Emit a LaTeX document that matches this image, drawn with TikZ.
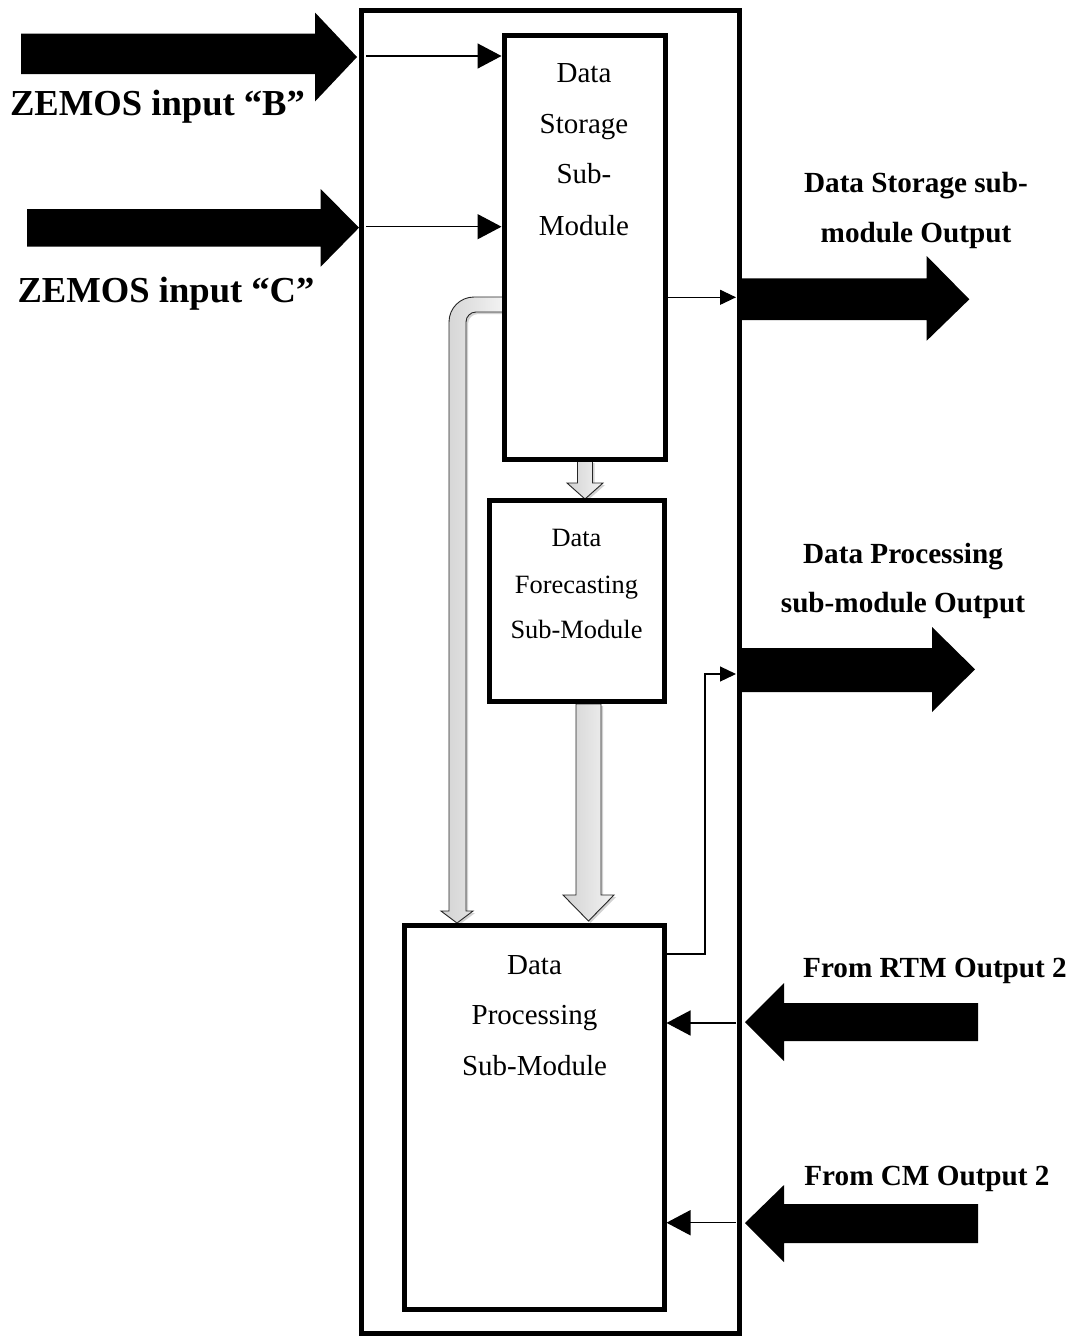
\documentclass[tikz,border=0pt]{standalone}
\usepackage{fontspec}
\setmainfont{Liberation Serif}
\usetikzlibrary{arrows.meta,shadows}
\begin{document}
\begin{tikzpicture}[x=1pt,y=-1pt,
  blk/.style={draw=black,line width=5pt,fill=white,inner sep=0pt},
  wire/.style={line width=1.5pt,-{Triangle[length=24pt,width=25pt]}},
  wiresm/.style={line width=1.2pt,-{Triangle[length=16pt,width=15pt]}},
  fat/.style={fill=black},
  pipe/.style={draw=black!85,line width=0.9pt,left color=gray!35,right color=gray!10,
    drop shadow={opacity=0.35,shadow xshift=2pt,shadow yshift=-2pt}},
  txt/.style={anchor=base,inner sep=0pt,font=\fontsize{29}{29}\selectfont},
  ftxt/.style={anchor=base,inner sep=0pt,font=\fontsize{26.4}{26.4}\selectfont},
  lbl/.style={anchor=base,inner sep=0pt,font=\fontsize{29.2}{29.2}\selectfont\bfseries},
  big/.style={anchor=base,inner sep=0pt,font=\fontsize{36.6}{36.6}\selectfont\bfseries}]
\useasboundingbox (0,0) rectangle (1076,1336);

% outer module
\node[blk,minimum width=377.5pt,minimum height=1323pt] (ob) at (550.25,671.5) {};

% gray pipes (drawn before the boxes)
\path[pipe] (503,297) -- (474,297) arc[start angle=270,end angle=180,radius=25]
  -- (449,911) -- (441,911) -- (457,923) -- (473,911) -- (466,911) -- (466,322)
  arc[start angle=180,end angle=270,radius=10] -- (503,312) -- cycle;
\path[pipe] (577.5,461) -- (592.5,461) -- (592.5,483) -- (603,483) -- (585,499)
  -- (567,483) -- (577.5,483) -- cycle;
\path[pipe] (576,704) -- (601,704) -- (601,895) -- (614,895) -- (588.5,921)
  -- (563,895) -- (576,895) -- cycle;

% inner boxes
\node[blk,minimum width=161.5pt,minimum height=423.5pt] (ds) at (584.75,247.25) {};
\node[blk,minimum width=175pt,minimum height=201pt] (df) at (576.5,601) {};
\node[blk,minimum width=259.5pt,minimum height=384pt] (dp) at (534.25,1117) {};

% box texts
\node[txt] (ds1) at (584,82.7) {Data};
\node[txt] (ds2) at (584,133) {Storage};
\node[txt] (ds3) at (584,183) {Sub-};
\node[txt] (ds4) at (584,235) {Module};
\node[ftxt] (df1) at (576.5,546) {Data};
\node[ftxt] (df2) at (576.5,593) {Forecasting};
\node[ftxt] (df3) at (576.5,638) {Sub-Module};
\node[txt] (dp1) at (534.5,974) {Data};
\node[txt] (dp2) at (534.5,1024) {Processing};
\node[txt] (dp3) at (534.5,1075) {Sub-Module};

% big black arrows
\fill[fat] (21,33.5) -- (315,33.5) -- (315,12.5) -- (357,57) -- (315,101.5) -- (315,74) -- (21,74) -- cycle;
\fill[fat] (27,209) -- (320.7,209) -- (320.7,189) -- (359,227.7) -- (320.7,266.7) -- (320.7,246.7) -- (27,246.7) -- cycle;
\fill[fat] (738,278.3) -- (926.7,278.3) -- (926.7,256) -- (969.3,299.3) -- (926.7,340.7) -- (926.7,320) -- (738,320) -- cycle;
\fill[fat] (738,648) -- (932,648) -- (932,627) -- (975,669.3) -- (932,712) -- (932,692) -- (738,692) -- cycle;
\fill[fat] (978,1003) -- (784,1003) -- (784,983) -- (745,1022) -- (784,1061) -- (784,1041) -- (978,1041) -- cycle;
\fill[fat] (978,1204) -- (784,1204) -- (784,1185) -- (745,1223) -- (784,1262) -- (784,1243) -- (978,1243) -- cycle;

% thin connectors
\coordinate (bIn) at (366,56);
\coordinate (cIn) at (366,226.7);
\coordinate (sOut) at (736,297.3);
\coordinate (pKnee) at (705,954);
\coordinate (pOut) at (736,674);
\coordinate (rIn) at (736,1023);
\coordinate (cmIn) at (736,1222.7);
\draw[wire] (bIn) -- (bIn -| ds.west);
\draw[wire] (cIn) -- (cIn -| ds.west);
\draw[wiresm] (ds.east |- sOut) -- (sOut);
\draw[wiresm] (pKnee -| dp.east) -- (pKnee) |- (pOut);
\draw[wire] (rIn) -- (rIn -| dp.east);
\draw[wire] (cmIn) -- (cmIn -| dp.east);

% labels
\node[big] (lb) at (157.5,115) {ZEMOS input “B”};
\node[big] (lc) at (166,302) {ZEMOS input “C”};
\node[lbl] (ls1) at (916,192) {Data Storage sub-};
\node[lbl] (ls2) at (916,242) {module Output};
\node[lbl] (lp1) at (903,563) {Data Processing};
\node[lbl] (lp2) at (903,612) {sub-module Output};
\node[lbl] (lr) at (935,977) {From RTM Output 2};
\node[lbl] (lm) at (927,1185) {From CM Output 2};
\end{tikzpicture}
\end{document}
